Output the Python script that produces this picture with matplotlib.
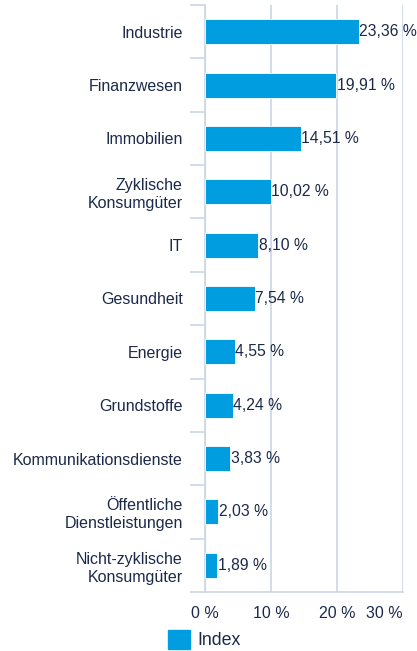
import matplotlib.pyplot as plt
import matplotlib.patches as mpatches
import numpy as np

plt.rcParams['font.family'] = ['Liberation Sans', 'DejaVu Sans']

# data
sectors = ['Industrie', 'Finanzwesen', 'Immobilien', 'Zyklische\nKonsumgüter', 'IT',
           'Gesundheit', 'Energie', 'Grundstoffe', 'Kommunikationsdienste',
           'Öffentliche\nDienstleistungen', 'Nicht-zyklische\nKonsumgüter']
weights = [23.36, 19.91, 14.51, 10.02, 8.10, 7.54, 4.55, 4.24, 3.83, 2.03, 1.89]
xticks = [0, 10, 20, 30]
series_name = 'Index'

bar_col = '#009ee0'
txt_col = '#1b2a4a'
grid_col = '#c9d5e8'

fig = plt.figure(figsize=(4.17, 6.51), dpi=100)
ax = fig.add_axes([205/417, 1-592/651, (402.7-205)/417, (592-5)/651])

y = np.arange(len(sectors))
ax.barh(y, weights, height=0.47, color=bar_col, edgecolor='white', linewidth=0.6, zorder=3)
for yi, w in zip(y, weights):
    ax.text(w + 0.05, yi, f'{w:.2f} %'.replace('.', ','), va='center', ha='left',
            fontsize=11.3, color=txt_col, zorder=4)

ax.set_ylim(len(sectors)-0.5, -0.5)
ax.set_xlim(0, 30)
ax.set_yticks(y)
ax.set_yticklabels(sectors, fontsize=11.5, color=txt_col, linespacing=1.25)
ax.set_yticks(np.arange(len(sectors)+1) - 0.5, minor=True)
ax.tick_params(axis='y', which='major', length=0, pad=16)
ax.tick_params(axis='y', which='minor', length=11, width=1.2, color=grid_col)

ax.set_xticks(xticks)
labs = ax.set_xticklabels([f'{t} %' for t in xticks], fontsize=11.5, color=txt_col)
labs[-1].set_ha('right')
ax.tick_params(axis='x', length=0, pad=10)
ax.grid(axis='x', color=grid_col, linewidth=1.2, zorder=0)

for s in ['top', 'right']:
    ax.spines[s].set_visible(False)
for s in ['left', 'bottom']:
    ax.spines[s].set_color(grid_col)
    ax.spines[s].set_linewidth(1.2)

handle = mpatches.Patch(color=bar_col, label=series_name)
fig.legend(handles=[handle], loc='lower left', bbox_to_anchor=(166/417, 0.0),
           frameon=False, fontsize=12.8, handlelength=1.25, handleheight=1.25,
           handletextpad=0.4, borderpad=0.1, borderaxespad=0, labelcolor=txt_col)

fig.savefig('out.png', dpi=100)
